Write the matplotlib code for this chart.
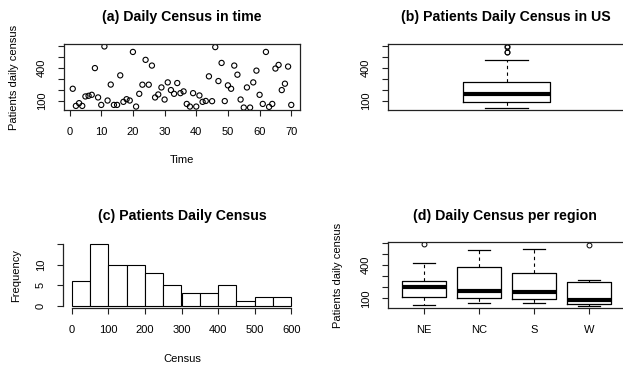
import matplotlib
matplotlib.use("Agg")
import matplotlib.pyplot as plt
from matplotlib.ticker import FixedLocator, FixedFormatter

plt.rcParams['font.family'] = ['Liberation Sans', 'DejaVu Sans']

# daily census, one value per day (days 1..70)
days = list(range(1, 71))
census = [210, 54, 79, 54, 140, 146, 155, 398, 131, 63,
          595, 103, 248, 63, 63, 332, 91, 115, 103, 545,
          48, 164, 247, 473, 247, 421, 131, 158, 222, 112,
          268, 198, 164, 262, 170, 186, 72, 48, 170, 48,
          149, 91, 99, 323, 97, 589, 280, 445, 98, 241,
          210, 421, 338, 112, 39, 222, 39, 268, 375, 155,
          72, 545, 45, 72, 394, 427, 198, 256, 412, 63]

hist_bins = [0, 50, 100, 150, 200, 250, 300, 350, 400, 450, 500, 550, 600]

# per region box summaries
regions = ["NE", "NC", "S", "W"]
reg_whislo = [43, 55, 55, 36]
reg_q1 = [115, 100, 91, 52]
reg_med = [199, 169, 154, 86]
reg_q3 = [256, 382, 328, 250]
reg_whishi = [418, 535, 547, 266]
reg_fliers = [[585], [], [], [580]]

yticks = [100, 200, 300, 400, 500, 600]
ytick_labels = ["100", "", "", "400", "", ""]

W, H = 623, 367
fig = plt.figure(figsize=(W / 100, H / 100), dpi=100)


def box(l, t, r, b):
    return [l / W, 1 - b / H, (r - l) / W, (b - t) / H]


def ftext(x, y, s, **kw):
    fig.text(x / W, 1 - y / H, s, ha='center', va='center', **kw)


def style(ax):
    for sp in ax.spines.values():
        sp.set_linewidth(0.9)
        sp.set_color('#222222')
    ax.tick_params(direction='out', length=4.5, width=0.8, labelsize=8,
                   color='#222222', top=False, right=False)
    ax.tick_params(axis='x', pad=8)
    ax.tick_params(axis='y', pad=8)
    for lab in ax.get_yticklabels():
        lab.set_rotation(90)
        lab.set_va('center')


def census_yaxis(ax, lo, hi):
    r = hi - lo
    ax.set_ylim(lo - 0.04 * r, hi + 0.04 * r)
    ax.yaxis.set_major_locator(FixedLocator(yticks))
    ax.yaxis.set_major_formatter(FixedFormatter(ytick_labels))


tsz = 10.2
lsz = 8

# (a) scatter over time
ax1 = fig.add_axes(box(64, 44, 300, 110))
ax1.scatter(days, census, s=14, facecolors='none', edgecolors='black',
            linewidths=0.8, marker='o')
ax1.set_xlim(1 - 0.04 * 69, 70 + 0.04 * 69)
ax1.set_xticks([0, 10, 20, 30, 40, 50, 60, 70])
census_yaxis(ax1, min(census), max(census))
style(ax1)
ftext(182, 17, "(a) Daily Census in time", fontsize=tsz, fontweight='bold')
ftext(182, 160, "Time", fontsize=lsz)
ftext(14, 77, "Patients daily census", fontsize=lsz, rotation=90)

# (b) single boxplot
wprops = dict(linestyle=(0, (3, 3)), linewidth=0.8, color='black')
ax2 = fig.add_axes(box(388, 44, 625, 110))
ax2.boxplot([census], positions=[1], widths=0.4,
            medianprops=dict(color='black', linewidth=3),
            boxprops=dict(linewidth=0.9, color='black'),
            whiskerprops=wprops, capprops=dict(linewidth=0.9),
            flierprops=dict(marker='o', markersize=3.5, markerfacecolor='none',
                            markeredgecolor='black', markeredgewidth=0.7))
ax2.set_xlim(0.46, 1.54)
census_yaxis(ax2, min(census), max(census))
ax2.set_xticks([])
style(ax2)
ftext(506, 17, "(b) Patients Daily Census in US", fontsize=tsz, fontweight='bold')

# (c) histogram
ax3 = fig.add_axes(box(63, 242, 300, 308))
ax3.hist(census, bins=hist_bins, facecolor='white', edgecolor='black', linewidth=0.8)
ax3.set_xlim(-24, 624)
ax3.set_ylim(-0.6, 15.6)
ax3.set_xticks([0, 100, 200, 300, 400, 500, 600])
ax3.yaxis.set_major_locator(FixedLocator([0, 5, 10, 15]))
ax3.yaxis.set_major_formatter(FixedFormatter(["0", "5", "10", ""]))
ax3.spines['top'].set_visible(False)
ax3.spines['right'].set_visible(False)
ax3.spines['left'].set_bounds(0, 15)
ax3.spines['bottom'].set_bounds(0, 600)
style(ax3)
ftext(182, 216, "(c) Patients Daily Census", fontsize=tsz, fontweight='bold')
ftext(182, 359, "Census", fontsize=lsz)
ftext(16, 275, "Frequency", fontsize=lsz, rotation=90)

# (d) boxplot per region
stats = []
for i, name in enumerate(regions):
    stats.append(dict(label=name, whislo=reg_whislo[i], q1=reg_q1[i], med=reg_med[i],
                      q3=reg_q3[i], whishi=reg_whishi[i], fliers=reg_fliers[i]))
ax4 = fig.add_axes(box(388, 242, 625, 308))
ax4.bxp(stats, positions=[1, 2, 3, 4], widths=0.8,
        medianprops=dict(color='black', linewidth=3),
        boxprops=dict(linewidth=0.9, color='black'),
        whiskerprops=wprops, capprops=dict(linewidth=0.9),
        flierprops=dict(marker='o', markersize=3.5, markerfacecolor='none',
                        markeredgecolor='black', markeredgewidth=0.7))
ax4.set_xlim(0.34, 4.66)
allv = reg_whislo + reg_whishi + [v for f in reg_fliers for v in f]
census_yaxis(ax4, min(allv), max(allv))
style(ax4)
ftext(505, 216, "(d) Daily Census per region", fontsize=tsz, fontweight='bold')
ftext(338, 275, "Patients daily census", fontsize=lsz, rotation=90)

fig.savefig("out.png", dpi=100)
